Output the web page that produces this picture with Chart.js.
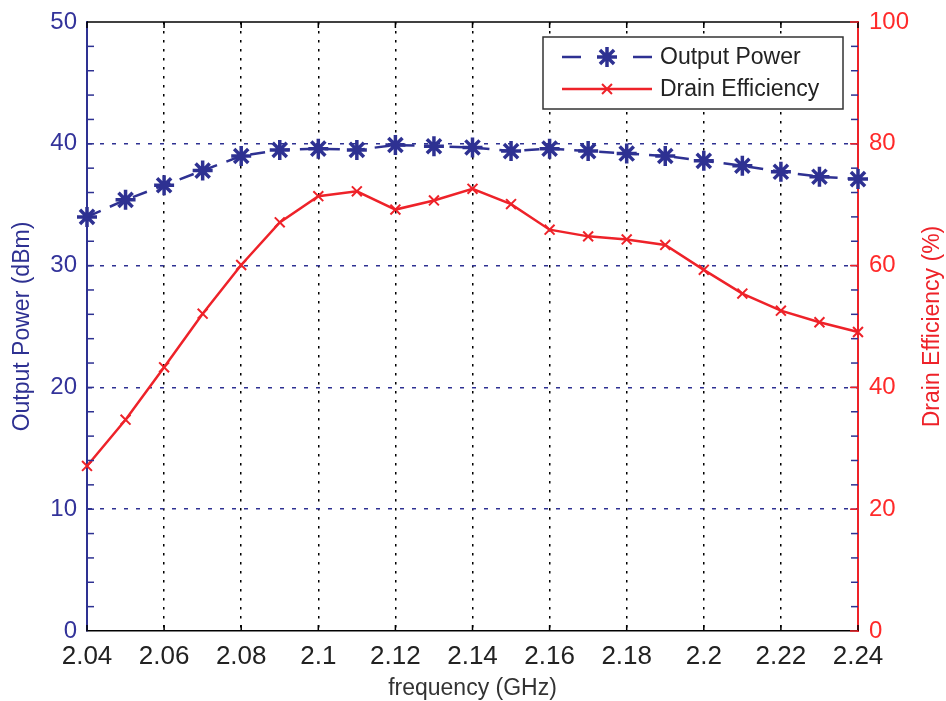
<!DOCTYPE html>
<html>
<head>
<meta charset="utf-8">
<script src="https://cdn.jsdelivr.net/npm/chart.js@4.4.1/dist/chart.umd.min.js"></script>
<style>
  html, body { margin: 0; padding: 0; background: #fff; }
</style>
</head>
<body>
<canvas id="c" width="946" height="701"></canvas>
<script>
// frequency points (GHz)
const freq = [2.04, 2.05, 2.06, 2.07, 2.08, 2.09, 2.10, 2.11, 2.12, 2.13, 2.14,
              2.15, 2.16, 2.17, 2.18, 2.19, 2.20, 2.21, 2.22, 2.23, 2.24];
// output power (dBm), left axis
const outputPower = [34.0, 35.4, 36.6, 37.8, 39.0, 39.5, 39.6, 39.5, 39.9, 39.8, 39.7,
                     39.4, 39.6, 39.4, 39.2, 39.0, 38.6, 38.2, 37.7, 37.3, 37.1];
// drain efficiency (%), right axis
const drainEff = [27.1, 34.7, 43.3, 52.1, 60.1, 67.1, 71.4, 72.2, 69.2, 70.7, 72.6,
                  70.1, 65.9, 64.8, 64.3, 63.4, 59.3, 55.4, 52.6, 50.7, 49.1];

const freqTicks = [2.04, 2.06, 2.08, 2.10, 2.12, 2.14, 2.16, 2.18, 2.20, 2.22, 2.24];
const powerTicks = [0, 10, 20, 30, 40, 50];
const effTicks = [0, 20, 40, 60, 80, 100];

const BLUE = '#2e3192';
const RED = '#ee2229';
const FONT = "'Liberation Sans', Arial, Helvetica, sans-serif";

function seg(ctx, x1, y1, x2, y2) {
  ctx.beginPath();
  ctx.moveTo(x1, y1);
  ctx.lineTo(x2, y2);
  ctx.stroke();
}

// MATLAB style frame: top edge, inward ticks, right title, legend
const frame = {
  id: 'frame',
  afterDraw(chart) {
    const { ctx, chartArea: a, scales } = chart;
    ctx.save();
    ctx.lineWidth = 1.5;
    ctx.strokeStyle = '#000';
    seg(ctx, a.left, a.top, a.right, a.top);
    freqTicks.forEach(v => {
      const x = scales.x.getPixelForValue(v);
      seg(ctx, x, a.bottom, x, a.bottom - 6);
      seg(ctx, x, a.top, x, a.top + 6);
    });

    ctx.strokeStyle = BLUE;
    for (let v = 2; v < 50; v += 2) {
      const y = scales.y.getPixelForValue(v);
      seg(ctx, a.left, y, a.left + 7, y);
      seg(ctx, a.right - 7, y, a.right, y);
    }
    ctx.strokeStyle = RED;
    effTicks.forEach(v => {
      const y = scales.y1.getPixelForValue(v);
      seg(ctx, a.right - 8, y, a.right, y);
    });

    // right axis title, reading upwards
    ctx.save();
    ctx.translate(933, (a.top + a.bottom) / 2);
    ctx.rotate(-Math.PI / 2);
    ctx.fillStyle = RED;
    ctx.font = '23px ' + FONT;
    ctx.textAlign = 'center';
    ctx.textBaseline = 'middle';
    ctx.fillText('Drain Efficiency (%)', 0, 0);
    ctx.restore();

    // legend box
    const bx = 543, by = 37, bw = 300, bh = 72;
    ctx.fillStyle = '#fff';
    ctx.fillRect(bx, by, bw, bh);
    ctx.strokeStyle = '#333';
    ctx.lineWidth = 1.5;
    ctx.strokeRect(bx, by, bw, bh);

    const sets = chart.data.datasets;
    const rows = [57, 89];
    sets.forEach((ds, i) => {
      const y = rows[i];
      ctx.strokeStyle = ds.borderColor;
      ctx.fillStyle = ds.borderColor;
      ctx.lineWidth = ds.borderWidth;
      ctx.setLineDash(i === 0 ? [19, 52] : []);
      seg(ctx, 562, y, 652, y);
      ctx.setLineDash([]);
      ctx.lineWidth = ds.pointBorderWidth;
      Chart.helpers.drawPoint(ctx, { pointStyle: ds.pointStyle, radius: ds.pointRadius, rotation: 0, borderWidth: ds.pointBorderWidth }, 607, y);
      ctx.fillStyle = '#222';
      ctx.font = '23px ' + FONT;
      ctx.textAlign = 'left';
      ctx.textBaseline = 'middle';
      ctx.fillText(ds.label, 660, y + 1);
    });
    ctx.restore();
  }
};

const edgeless = (ticks, color) => ctx =>
  (ctx.tick && (ctx.tick.value === ticks[0] || ctx.tick.value === ticks[ticks.length - 1])) ? 'rgba(0,0,0,0)' : color;

new Chart(document.getElementById('c'), {
  type: 'line',
  data: {
    datasets: [{
      label: 'Output Power',
      data: freq.map((f, i) => ({ x: f, y: outputPower[i] })),
      yAxisID: 'y',
      borderColor: BLUE,
      backgroundColor: BLUE,
      borderWidth: 2.5,
      borderDash: [15, 10],
      pointStyle: 'star',
      pointRadius: 10,
      pointBorderWidth: 3.5,
      clip: false
    }, {
      label: 'Drain Efficiency',
      data: freq.map((f, i) => ({ x: f, y: drainEff[i] })),
      yAxisID: 'y1',
      borderColor: RED,
      backgroundColor: RED,
      borderWidth: 2.5,
      pointStyle: 'crossRot',
      pointRadius: 7,
      pointBorderWidth: 2,
      clip: false
    }]
  },
  options: {
    responsive: false,
    animation: false,
    layout: { padding: { top: 22 } },
    plugins: { legend: { display: false }, tooltip: { enabled: false } },
    scales: {
      x: {
        type: 'linear',
        min: 2.04,
        max: 2.24,
        afterBuildTicks: s => { s.ticks = freqTicks.map(v => ({ value: v })); },
        afterFit: s => { s.height = 70; s.paddingLeft = 0; s.paddingRight = 0; },
        ticks: {
          color: '#222',
          font: { family: FONT, size: 26 },
          padding: 10,
          maxRotation: 0,
          callback: v => String(+v.toFixed(2))
        },
        grid: { color: edgeless(freqTicks, '#000'), lineWidth: 1.5, drawTicks: false },
        border: { color: '#000', width: 1.5, dash: [2.5, 6.5] },
        title: {
          display: true,
          text: 'frequency (GHz)',
          color: '#333',
          font: { family: FONT, size: 23, lineHeight: 1 },
          padding: { top: 0, bottom: 1 }
        }
      },
      y: {
        position: 'left',
        min: 0,
        max: 50,
        afterBuildTicks: s => { s.ticks = powerTicks.map(v => ({ value: v })); },
        afterFit: s => { s.width = 87; s.paddingTop = 0; s.paddingBottom = 0; },
        ticks: { color: '#33339a', font: { family: FONT, size: 24 }, padding: 10 },
        grid: { color: edgeless(powerTicks, BLUE), lineWidth: 1.5, drawTicks: false },
        border: { color: BLUE, width: 2, dash: [4, 8] },
        title: {
          display: true,
          text: 'Output Power (dBm)',
          color: BLUE,
          font: { family: FONT, size: 23, lineHeight: 1 },
          padding: { top: 11, bottom: 0 }
        }
      },
      y1: {
        position: 'right',
        min: 0,
        max: 100,
        afterBuildTicks: s => { s.ticks = effTicks.map(v => ({ value: v })); },
        afterFit: s => { s.width = 88; s.paddingTop = 0; s.paddingBottom = 0; },
        ticks: { color: '#ff2a2a', font: { family: FONT, size: 24 }, padding: 11 },
        grid: { drawOnChartArea: false, drawTicks: false },
        border: { color: RED, width: 2 }
      }
    }
  },
  plugins: [frame]
});
</script>
</body>
</html>
